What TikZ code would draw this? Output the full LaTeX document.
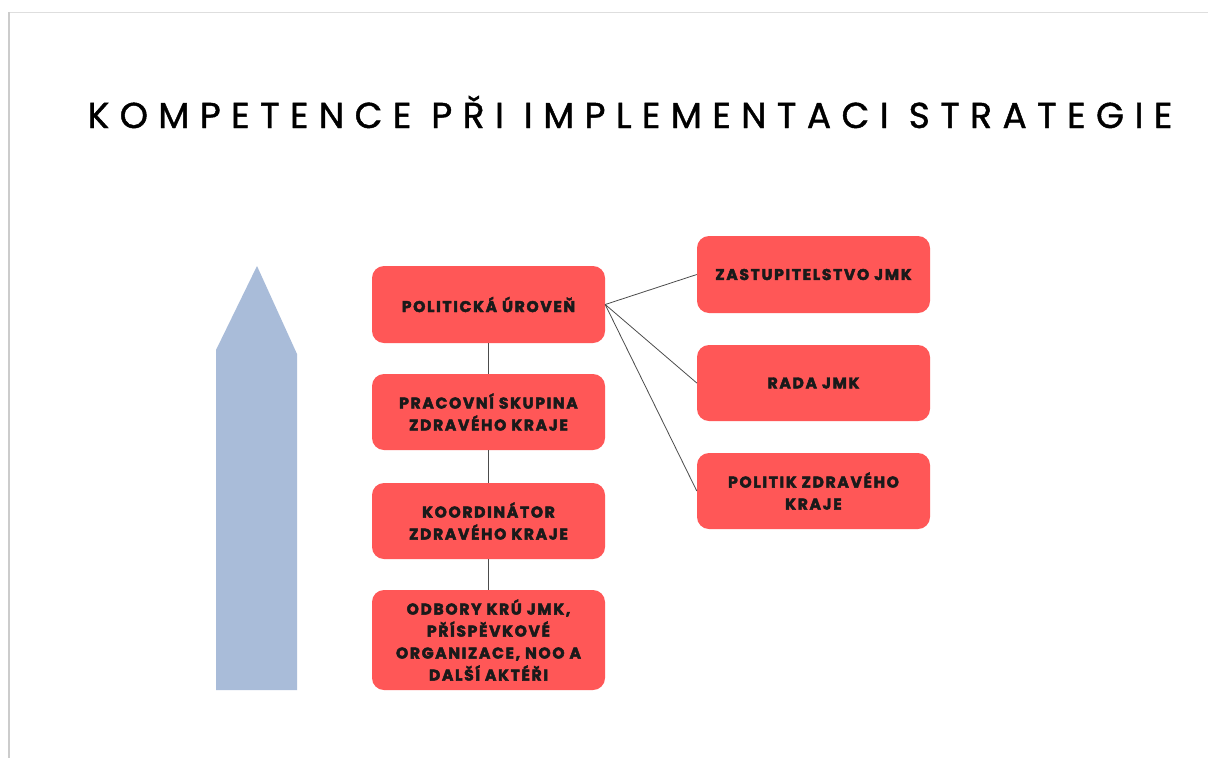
\documentclass[tikz,border=0pt]{standalone}
\usepackage{fontspec}
\setmainfont{Poppins}
\newfontfamily\titlefont{Poppins}[LetterSpace=29,FakeBold=1.2]
\newfontfamily\boxfont{Poppins}[LetterSpace=11,BoldFeatures={FakeBold=3}]
\definecolor{boxred}{HTML}{FF5757}
\definecolor{arrowblue}{HTML}{A9BCD9}
\definecolor{txt}{HTML}{1A1A1A}
\begin{document}
\begin{tikzpicture}[x=1pt,y=-1pt,
  redbox/.style={fill=boxred, draw=none, rounded corners=12pt, inner sep=0pt,
    text=txt, align=center, font=\boxfont\bfseries\fontsize{15.5}{22}\selectfont},
  link/.style={draw=black!70, line width=0.8pt}]
\useasboundingbox (0,0) rectangle (1208,758);
\fill[white] (0,0) rectangle (1208,758);
\draw[draw=black!13, line width=1.5pt] (8,12.5) -- (1208,12.5);
\draw[draw=black!20, line width=1.5pt] (9,12) -- (9,758);
\node[anchor=base, font=\titlefont\fontsize{36}{40}\selectfont, text=black] (title) at (630,128) {KOMPETENCE PŘI IMPLEMENTACI STRATEGIE};
\fill[arrowblue] (216,690) -- (216,350) -- (257,266) -- (297,354) -- (297,690) -- cycle;
% left column
\node[redbox, minimum width=233pt, minimum height=77pt] (p1) at (488.5,304.5) {POLITICKÁ ÚROVEŇ};
\node[redbox, minimum width=233pt, minimum height=76pt] (p2) at (488.5,412) {PRACOVNÍ SKUPINA\\ZDRAVÉHO KRAJE};
\node[redbox, minimum width=233pt, minimum height=76pt] (p3) at (488.5,521) {KOORDINÁTOR\\ZDRAVÉHO KRAJE};
\node[redbox, minimum width=233pt, minimum height=100pt] (p4) at (488.5,640) {ODBORY KRÚ JMK,\\PŘÍSPĚVKOVÉ\\ORGANIZACE, NOO A\\DALŠÍ AKTÉŘI};
% right column
\node[redbox, minimum width=233pt, minimum height=77pt] (r1) at (813.5,274.5) {ZASTUPITELSTVO JMK};
\node[redbox, minimum width=233pt, minimum height=76pt] (r2) at (813.5,383) {RADA JMK};
\node[redbox, minimum width=233pt, minimum height=76pt] (r3) at (813.5,491) {POLITIK ZDRAVÉHO\\KRAJE};
% connectors
\draw[link] (p1) -- (p2);
\draw[link] (p2) -- (p3);
\draw[link] (p3) -- (p4);
\draw[link] (p1.east) -- (r1.west);
\draw[link] (p1.east) -- (r2.west);
\draw[link] (p1.east) -- (r3.west);
\end{tikzpicture}
\end{document}
